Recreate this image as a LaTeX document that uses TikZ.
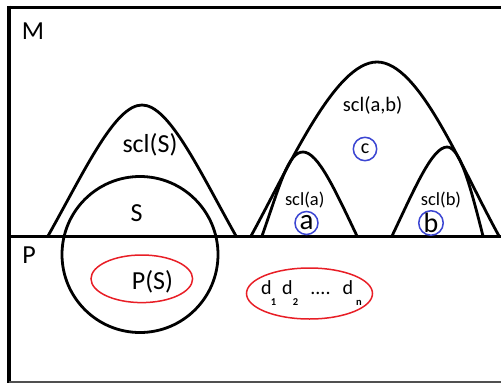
\documentclass[tikz,border=0pt]{standalone}
\usepackage{fontspec}
\setmainfont{Carlito}
\usetikzlibrary{shapes.geometric}
\definecolor{pred}{RGB}{232,30,38}
\definecolor{pblue}{RGB}{60,70,210}
\definecolor{pgray}{RGB}{80,80,80}
\newcommand{\fs}[1]{\fontsize{#1}{#1}\selectfont}
\tikzset{
  frameline/.style={line width=3pt, line cap=rect},
  mound/.style={line width=2.8pt, line join=round},
  lbl/.style={inner sep=0pt, text=black},
  redell/.style={ellipse, draw=pred, line width=1.5pt, inner sep=0pt},
  bluecirc/.style={circle, draw=pblue, line width=1.5pt, inner sep=0pt, minimum size=23pt},
}
\begin{document}
\begin{tikzpicture}[x=1pt,y=-1pt]
\useasboundingbox (0,0) rectangle (501,383);
% frame
\draw[frameline] (9,7) -- (501,7);
\draw[line width=4pt] (9,5.5) -- (9,383);
\draw[frameline] (9,236) -- (499,236);
\draw[pgray, line width=1.2pt] (9,382) -- (501,382);
% mounds
\draw[mound] (48,236) .. controls (85,170) and (115,105) .. (142,105)
                       .. controls (169,105) and (199,170) .. (236,236);
\draw[mound] (251,236) .. controls (290,165) and (335,62) .. (377,62)
                       .. controls (419,62) and (460,165) .. (499,236);
\draw[mound] (262,236) .. controls (280,185) and (288,152) .. (303,152)
                       .. controls (318,152) and (335,190) .. (357,236);
\draw[mound] (392,236) .. controls (414,190) and (432,147) .. (447,147)
                       .. controls (460,147) and (470,185) .. (483,236);
% circle S
\node[circle, draw, line width=2.8pt, minimum size=156pt, inner sep=0pt] (setS) at (140,254.5) {};
% red ellipses
\node[redell, minimum width=101.6pt, minimum height=47.6pt] (ellPS) at (141.8,278.8) {};
\node[redell, minimum width=126pt, minimum height=51pt] (ellD) at (309.5,293.5) {};
% labels
\node[lbl] (tM) at (33,31) {\fs{26}M};
\node[lbl] (tP) at (29,255) {\fs{26}P};
\node[lbl] (tS) at (136.5,213.5) {\fs{26}S};
\node[lbl] (tsclS) at (150,145) {\fs{26}scl(S)};
\node[lbl] (tPS) at (152.5,282) {\fs{26}P(S)};
\node[lbl] (tsclab) at (372.7,105.5) {\fs{20.5}scl(a,b)};
\node[lbl] (tscla) at (304.7,200) {\fs{18.5}scl(a)};
\node[lbl] (tsclb) at (441,200) {\fs{18.5}scl(b)};
% circled points
\node[bluecirc, minimum size=23.4pt] (pc) at (365,149) {\fs{20}c};
\node[bluecirc, minimum width=23pt] (pa) at (306.5,223) {\fs{29}a};
\node[bluecirc, minimum size=23.5pt] (pb) at (431,223) {\fs{28}b};
% d sequence
\node[lbl, anchor=base] (d1) at (266.5,294.5) {\fs{20}d};
\node[lbl, anchor=base] (s1) at (273.5,305) {\fs{10.5}\bfseries 1};
\node[lbl, anchor=base] (d2) at (287.5,294.5) {\fs{20}d};
\node[lbl, anchor=base] (s2) at (295.5,305) {\fs{10.5}\bfseries 2};
\node[lbl, anchor=base] (dots) at (320.5,294.5) {\fs{20}....};
\node[lbl, anchor=base] (dn) at (348,294.5) {\fs{20}d};
\node[lbl, anchor=base] (sn) at (359,305) {\fs{10.5}\bfseries n};
\end{tikzpicture}
\end{document}
